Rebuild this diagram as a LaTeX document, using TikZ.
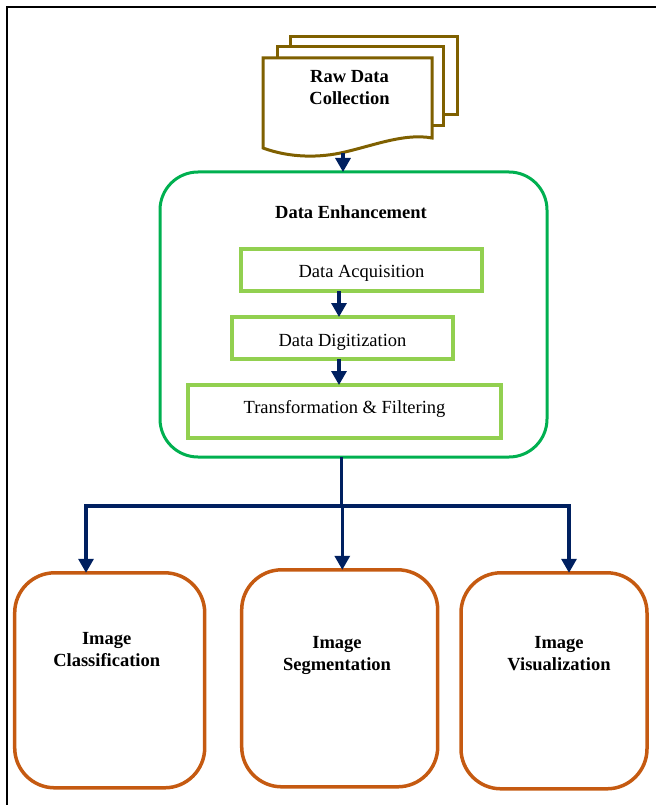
\documentclass[tikz,border=0pt]{standalone}
\usepackage{fontspec}
\setmainfont{Liberation Serif}
\usetikzlibrary{arrows.meta}

\definecolor{docbrown}{HTML}{7F6000}
\definecolor{enhgreen}{HTML}{00B050}
\definecolor{stepgreen}{HTML}{92D050}
\definecolor{apporange}{HTML}{C55A11}
\definecolor{flownavy}{HTML}{002060}

\begin{document}
\begin{tikzpicture}[x=1pt, y=-1pt,
  every node/.style={font=\fontsize{18.5}{22}\selectfont, inner sep=0pt, outer sep=0pt},
  docline/.style={draw=docbrown, line width=3pt, fill=white, line join=miter},
  enhbox/.style={draw=enhgreen, line width=3pt, rounded corners=38pt},
  stepbox/.style={draw=stepgreen, line width=3.5pt},
  appbox/.style={draw=apporange, line width=3.5pt, rounded corners=40pt},
  label/.style={anchor=base, text=black},
  title/.style={font=\fontsize{18.5}{22}\selectfont\bfseries, align=center, text=black},
  arr/.style={draw=flownavy, line width=3.2pt, -{Triangle[length=14pt,width=15pt]}},
  link/.style={draw=flownavy, line width=3.2pt}
]
\useasboundingbox (0,0) rectangle (656,805);

% page frame
\draw[line width=2.3pt] (6.8,805) -- (6.8,6.8) -- (656,6.8);

% stacked documents
\draw[docline] (290,37) rectangle (457,115);
\draw[docline] (277,47) rectangle (443,126);
\draw[docline] (263,58) -- (432,58) -- (432,138)
  .. controls (405,133) and (375,145) .. (345,152)
  .. controls (320,158) and (290,158) .. (263,148) -- cycle;
\node[title] (raw) at (349.5,88) {Raw Data\\Collection};
\coordinate (docbot) at (343,153);

% data enhancement block
\node[enhbox, minimum width=387pt, minimum height=285pt] (enh) at (353.5,314.5) {};
\node[title, anchor=base] (enhtitle) at (351,218) {Data Enhancement};

\node[stepbox, minimum width=241pt, minimum height=42pt] (acq) at (361.5,270) {};
\node[label] (acqtext) at (361.5,277) {Data Acquisition};
\node[stepbox, minimum width=221pt, minimum height=42pt] (dig) at (342.5,338) {};
\node[label] (digtext) at (342.5,346) {Data Digitization};
\node[stepbox, minimum width=313pt, minimum height=53pt] (tf) at (344.5,411.5) {};
\node[label] (tftext) at (344.5,413) {Transformation \& Filtering};

% applications
\node[appbox, minimum width=190pt, minimum height=215pt] (cls) at (109.7,680.3) {};
\node[title] (clstext) at (106.7,650) {Image\\Classification};
\node[appbox, minimum width=196pt, minimum height=217pt] (seg) at (339.7,678.3) {};
\node[title] (segtext) at (337,655.5) {Image\\Segmentation};
\node[appbox, minimum width=186pt, minimum height=216pt] (vis) at (554,680.8) {};
\node[title] (vistext) at (559,654) {Image\\Visualization};

% connectors
\coordinate (ax) at (339,0);
\coordinate (split) at (341.6,506);
\coordinate (lx) at (86,506);
\coordinate (mx) at (342.3,506);
\coordinate (rx) at (569,506);

\draw[arr] (docbot) -- (docbot |- enh.north);
\draw[arr] (acq.south -| ax) -- (dig.north -| ax);
\draw[arr] (dig.south -| ax) -- (tf.north -| ax);

\draw[link] (enh.south -| split) -- (split);
\draw[arr] (split) -| (lx |- cls.north);
\draw[arr] (split) -| (rx |- vis.north);
\draw[arr] (mx) -- (mx |- seg.north);
\end{tikzpicture}
\end{document}
